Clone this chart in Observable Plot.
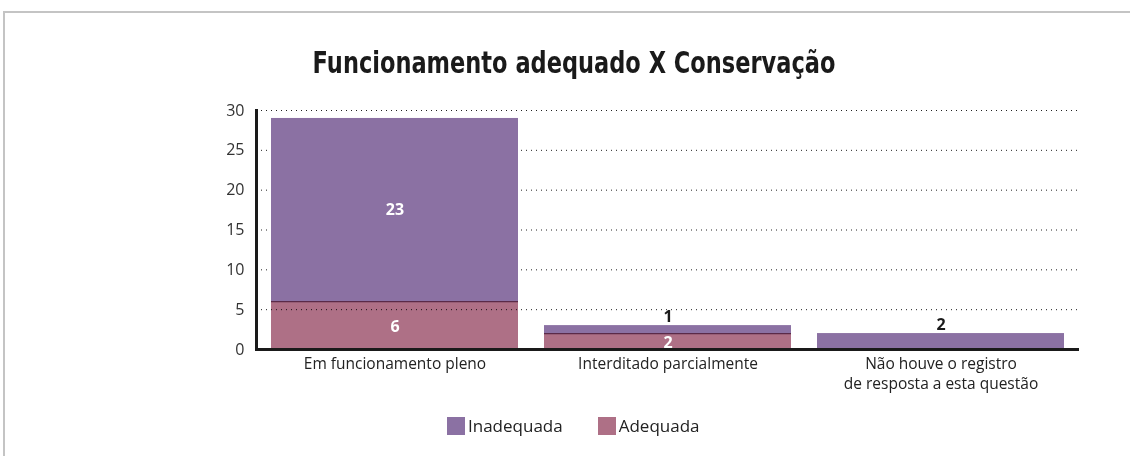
<!DOCTYPE html>
<html>
<head>
<meta charset="utf-8">
<script src="https://cdn.jsdelivr.net/npm/d3@7"></script>
<script src="https://cdn.jsdelivr.net/npm/@observablehq/plot@0.6"></script>
<style>
  html, body { margin: 0; padding: 0; background: #fff; }
  #wrap { position: relative; width: 1130px; height: 456px; overflow: hidden; background: #fff; }
  #frameTop { position: absolute; left: 4px; top: 11px; width: 1126px; height: 2px; background: #c4c4c4; }
  #frameLeft { position: absolute; left: 3px; top: 11px; width: 2px; height: 445px; background: #c4c4c4; }
  #title { position: absolute; left: 174px; width: 800px; top: 45px; text-align: center;
           font-family: "DejaVu Sans", sans-serif; font-weight: bold;
           font-size: 30px; color: #1a1a1a; transform: scaleX(0.75); transform-origin: 400px 0; white-space: nowrap; }
  #chart { position: absolute; left: 0; top: 0; }
  #legend { position: absolute; top: 414px; left: 447px; display: flex; gap: 35px;
            font-family: "Open Sans", sans-serif; font-size: 17px; color: #222; }
  .item { display: flex; align-items: center; }
  .sw { width: 18px; height: 18px; margin-right: 3px; }
</style>
</head>
<body>
<div id="wrap">
  <div id="frameTop"></div>
  <div id="frameLeft"></div>
  <div id="title">Funcionamento adequado X Conservação</div>
  <div id="chart"></div>
  <div id="legend"></div>
</div>
<script>
const categories = ["Em funcionamento pleno", "Interditado parcialmente", "Não houve o registro\nde resposta a esta questão"];
const adequada = [6, 2, 0];
const inadequada = [23, 1, 2];
const yTicks = [0, 5, 10, 15, 20, 25, 30];
const seriesNames = ["Inadequada", "Adequada"];
const colors = {Inadequada: "#8b71a3", Adequada: "#ae7086"};

const rows = categories.map((c, i) => ({
  cat: c, a: adequada[i], b: inadequada[i], total: adequada[i] + inadequada[i]
}));

const font = "'Open Sans', sans-serif";

const plot = Plot.plot({
  width: 1130,
  height: 400,
  marginTop: 110,
  marginBottom: 51,
  marginLeft: 256,
  marginRight: 51,
  style: {fontFamily: font, background: "transparent"},
  x: {domain: categories, paddingInner: 0.095, paddingOuter: 0.05, label: null},
  y: {domain: [0, 30], ticks: yTicks, label: null},
  marks: [
    Plot.gridY(yTicks.filter(t => t > 0), {stroke: "#222", strokeOpacity: 1, strokeWidth: 1, strokeDasharray: "1,4"}),
    Plot.barY(rows, {x: "cat", y1: "a", y2: "total", fill: colors.Inadequada}),
    Plot.barY(rows.filter(d => d.a > 0), {x: "cat", y1: 0, y2: "a", fill: colors.Adequada, mixBlendMode: "multiply"}),
    Plot.tickY(rows.filter(d => d.a > 0), {x: "cat", y: "a", stroke: "#5a2a48", strokeWidth: 1.2}),
    Plot.axisY({ticks: yTicks, tickSize: 0, tickPadding: 12, fontSize: 16, fill: "#333", label: null}),
    Plot.axisX({tickSize: 0, tickPadding: 5, fontSize: 15.5, fill: "#222", label: null, lineHeight: 1.32}),
    Plot.frame({anchor: "left", stroke: "#1a1a1a", strokeWidth: 3}),
    Plot.ruleY([0], {stroke: "#1a1a1a", strokeWidth: 3}),
    // labels of the bottom segment (always inside)
    Plot.text(rows.filter(d => d.a > 0), {x: "cat", y: d => d.a / 2, text: d => String(d.a), fill: "white", fontWeight: "bold", fontSize: 16, dy: 1}),
    // labels of the top segment: inside if tall enough, otherwise above
    Plot.text(rows.filter(d => d.b >= 5), {x: "cat", y: d => d.a + d.b / 2, text: d => String(d.b), fill: "white", fontWeight: "bold", fontSize: 16}),
    Plot.text(rows.filter(d => d.b > 0 && d.b < 5), {x: "cat", y: "total", text: d => String(d.b), fill: "#1a1a1a", fontWeight: "bold", fontSize: 16, dy: -9})
  ]
});
document.getElementById("chart").appendChild(plot);

const legend = document.getElementById("legend");
seriesNames.forEach(n => {
  const it = document.createElement("div");
  it.className = "item";
  it.innerHTML = `<span class="sw" style="background:${colors[n]}"></span><span>${n}</span>`;
  legend.appendChild(it);
});
</script>
</body>
</html>
